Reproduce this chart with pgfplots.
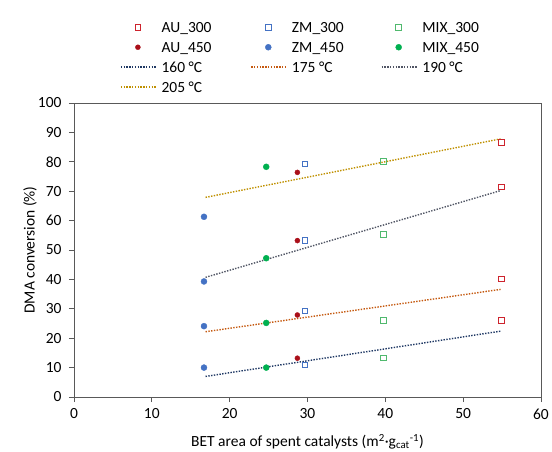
\documentclass[border=0pt]{standalone}
\usepackage{fontspec}
\setmainfont{Carlito}
\usepackage{pgfplots}
\pgfplotsset{compat=1.18}
\definecolor{aured}{RGB}{205,35,45}
\definecolor{cau4}{RGB}{170,15,25}
\definecolor{czm}{RGB}{68,114,196}
\definecolor{cmix}{RGB}{0,176,80}
\definecolor{cmix3}{RGB}{80,185,110}
\definecolor{c160}{RGB}{31,56,100}
\definecolor{c175}{RGB}{197,90,17}
\definecolor{c190}{RGB}{80,85,100}
\definecolor{c205}{RGB}{191,144,0}
\newcommand{\LE}[1]{\makebox[94pt][l]{\hspace{5pt}\strut #1}}
\pgfplotsset{
  mlegend/.style={legend image code/.code={\path (0pt,0pt) (35pt,0pt); \draw[##1] plot coordinates {(17pt,0pt)};}},
  llegend/.style={legend image code/.code={\draw[##1] (0pt,0pt) -- (35pt,0pt);}},
  trend/.style={no marks, line width=1.4pt, dash pattern=on 1.4pt off 1.4pt},
  osq/.style={only marks, mark=square, mark size=2.8pt, color=#1, line width=1pt, mark options={draw=#1, fill=white, solid}},
  fci/.style={only marks, mark=*, color=#1, mark options={draw=#1, fill=#1, solid}},
}
\begin{document}
\begin{tikzpicture}
\path[use as bounding box] (-74pt,-54pt) rectangle (478pt,397pt);
\begin{axis}[
  scale only axis, width=467pt, height=294pt,
  xmin=0, xmax=60, ymin=0, ymax=100,
  xtick={0,10,...,60}, ytick={0,10,...,100},
  xtick pos=bottom, ytick pos=left,
  tick align=outside, major tick length=5pt,
  axis line style={black!65, line width=0.8pt},
  tick style={black!65, line width=0.8pt},
  font=\fontsize{15.5}{18}\selectfont,
  /pgf/number format/assume math mode=true,
  xticklabel style={yshift=-3pt},
  yticklabel style={xshift=-4pt},
  xlabel={BET area of spent catalysts (m\textsuperscript{2}·g\textsubscript{cat}\textsuperscript{-1})},
  ylabel={DMA conversion (\%)},
  xlabel style={at={(axis description cs:0.5,-0.153)}, anchor=center},
  ylabel style={at={(axis description cs:-0.0942,0.5)}, anchor=center},
  legend columns=3,
  legend style={at={(axis description cs:0.0985,1.282)}, anchor=north west,
    draw=none, fill=none, inner sep=0pt, column sep=0pt, row sep=5.8pt,
    nodes={inner sep=0pt}, cells={anchor=west}},
]
\addlegendimage{mlegend, osq=aured}
\addlegendentry{\LE{AU\_300}}
\addlegendimage{mlegend, osq=czm}
\addlegendentry{\LE{ZM\_300}}
\addlegendimage{mlegend, osq=cmix3}
\addlegendentry{\LE{MIX\_300}}
\addlegendimage{mlegend, fci=cau4, mark size=2.5pt}
\addlegendentry{\LE{AU\_450}}
\addlegendimage{mlegend, fci=czm, mark size=3pt}
\addlegendentry{\LE{ZM\_450}}
\addlegendimage{mlegend, fci=cmix, mark size=3pt}
\addlegendentry{\LE{MIX\_450}}
\addlegendimage{llegend, trend, c160}
\addlegendentry{\LE{160 °C}}
\addlegendimage{llegend, trend, c175}
\addlegendentry{\LE{175 °C}}
\addlegendimage{llegend, trend, c190}
\addlegendentry{\LE{190 °C}}
\addlegendimage{llegend, trend, c205}
\addlegendentry{\LE{205 °C}}

\addplot[forget plot, trend, c160] coordinates {(16.9,7.0) (54.8,22.4)};
\addplot[forget plot, trend, c175] coordinates {(16.9,22.2) (54.8,36.6)};
\addplot[forget plot, trend, c190] coordinates {(16.9,40.7) (54.8,70.2)};
\addplot[forget plot, trend, c205] coordinates {(16.9,67.9) (54.8,87.8)};

\addplot[forget plot, osq=czm]
  coordinates {(29.7,79.3) (29.7,53.2) (29.7,29.3) (29.7,10.9)};
\addplot[forget plot, osq=cmix3]
  coordinates {(39.8,80.2) (39.8,55.3) (39.8,26.0) (39.8,13.2)};
\addplot[forget plot, fci=cau4, mark size=2.5pt]
  coordinates {(28.7,76.4) (28.7,53.2) (28.7,27.9) (28.7,13.2)};
\addplot[forget plot, fci=czm, mark size=3pt]
  coordinates {(16.7,61.3) (16.7,39.3) (16.7,24.1) (16.7,10.0)};
\addplot[forget plot, fci=cmix, mark size=3pt]
  coordinates {(24.7,78.3) (24.7,47.2) (24.7,25.2) (24.7,10.0)};
\addplot[forget plot, osq=aured]
  coordinates {(54.9,86.6) (54.9,71.4) (54.9,40.2) (54.9,26.0)};
\end{axis}
\end{tikzpicture}
\end{document}
